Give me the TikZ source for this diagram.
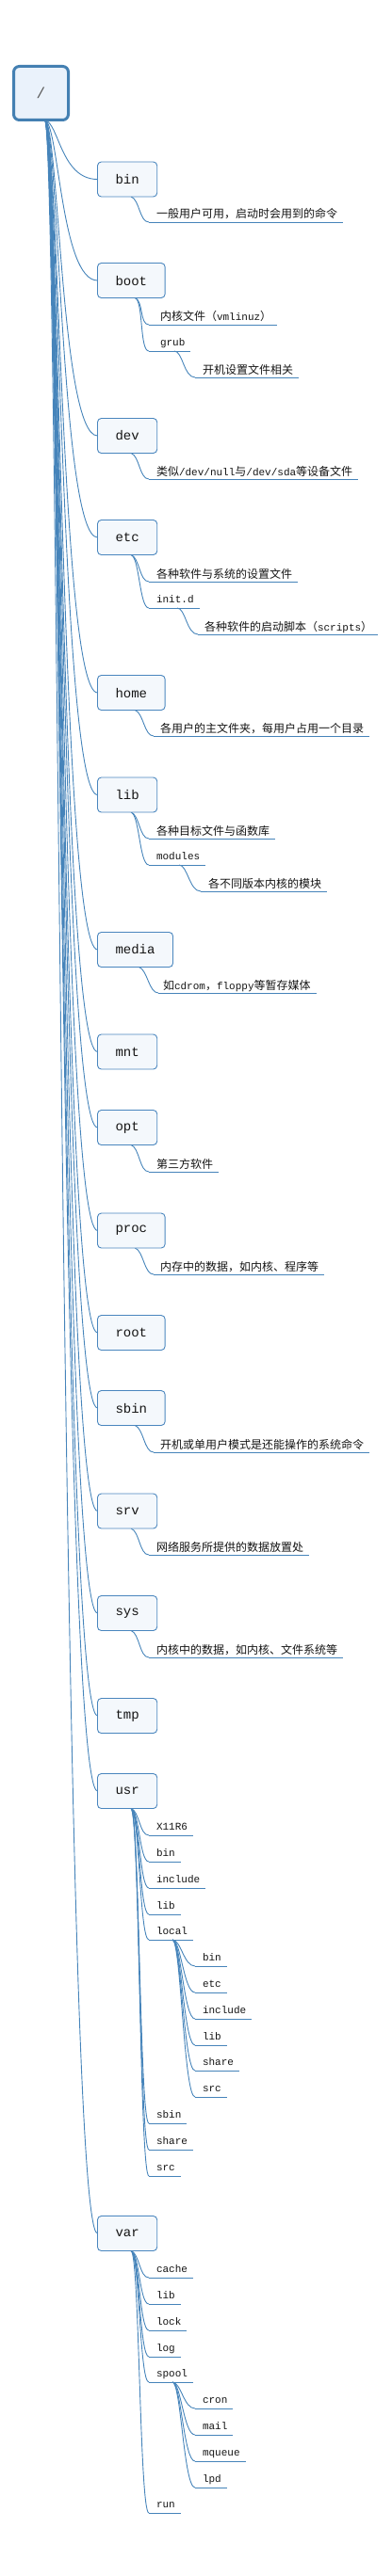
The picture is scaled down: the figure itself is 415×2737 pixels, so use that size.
\documentclass[tikz,border=0pt]{standalone}
\usepackage{fontspec}
\setmainfont{Liberation Mono}
\newfontfamily\cjk{Noto Sans CJK SC}
\usetikzlibrary{backgrounds}
\newcommand\zh[1]{{\cjk\fontsize{12}{14}\selectfont #1}}
\definecolor{linkc}{RGB}{70,132,186}
\definecolor{rootline}{RGB}{68,128,178}
\definecolor{rootfill}{RGB}{234,242,251}
\definecolor{boxline}{RGB}{74,134,190}
\definecolor{boxfill}{RGB}{244,248,252}
\definecolor{inkc}{RGB}{20,20,20}
\tikzset{
  link/.style={draw=linkc, line width=0.9pt},
  rootbox/.style={draw=rootline, fill=rootfill, line width=3pt, rounded corners=6pt,
    minimum width=58pt, minimum height=57pt, inner sep=0, outer sep=0,
    font=\fontsize{16}{18}\selectfont, text=black!65},
  dirbox/.style={draw=boxline, fill=boxfill, line width=0.9pt, rounded corners=4pt,
    anchor=west, inner xsep=19pt, inner ysep=0, minimum height=37pt, outer sep=0,
    font=\fontsize{14}{16}\selectfont, text=inkc},
  leafen/.style={anchor=south west, inner sep=0, outer sep=0, text depth=5.5pt,
    font=\fontsize{11}{13}\selectfont, text=inkc},
  leafzh/.style={leafen, text depth=4pt}
}
\newcommand\dirbox[3]{\node[dirbox] (#1) at (103.5,#2) {#3};}
\newcommand\leaf[6][leafen]{%
  \node[#1] (#2) at (#3,#4) {\hspace*{#5pt}#6\hspace*{6pt}};
  \draw[link] (#2.south west) -- (#2.south east);}
\newcommand\rootlink[1]{\draw[link] ([xshift=4pt]root.south) .. controls +(15,3) and +(-39,0) .. (#1.west);}
\newcommand\boxlink[2]{\draw[link] ([xshift=4pt]#1.south) .. controls +(9,3) and +(-10,0) .. (#2.south west);}
\newcommand\sublink[3]{\draw[link] ([xshift=#3pt]#1.south west) .. controls +(9,0) and +(-12,0) .. (#2.south west);}
\begin{document}
\begin{tikzpicture}[x=1pt,y=-1pt]
\useasboundingbox (0,0) rectangle (415,2737);
\node[rootbox] (root) at (43.5,99) {/};
% first level
\dirbox{bx-bin}{190.5}{bin}
\dirbox{bx-boot}{298}{boot}
\dirbox{bx-dev}{463}{dev}
\dirbox{bx-etc}{571}{etc}
\dirbox{bx-home}{736}{home}
\dirbox{bx-lib}{844.5}{lib}
\dirbox{bx-media}{1009}{media}
\dirbox{bx-mnt}{1117.5}{mnt}
\dirbox{bx-opt}{1198}{opt}
\dirbox{bx-proc}{1307.5}{proc}
\dirbox{bx-root}{1416}{root}
\dirbox{bx-sbin}{1496}{sbin}
\dirbox{bx-srv}{1605.5}{srv}
\dirbox{bx-sys}{1714}{sys}
\dirbox{bx-tmp}{1823}{tmp}
\dirbox{bx-usr}{1903}{usr}
\dirbox{bx-var}{2373}{var}
% leaves
\leaf[leafzh]{bin1}{158}{236}{8}{\zh{一般用户可用，启动时会用到的命令}}
\leaf[leafzh]{boot1}{158}{345}{12}{\zh{内核文件（}vmlinuz\zh{）}}
\leaf{boot2}{158}{373}{12}{grub}
\leaf[leafzh]{boot2a}{207}{401}{8}{\zh{开机设置文件相关}}
\leaf[leafzh]{dev1}{158}{509}{8}{\zh{类似}/dev/null\zh{与}/dev/sda\zh{等设备文件}}
\leaf[leafzh]{etc1}{158}{618}{8}{\zh{各种软件与系统的设置文件}}
\leaf{etc2}{158}{646}{8}{init.d}
\leaf[leafzh]{etc2a}{210}{674}{7}{\zh{各种软件的启动脚本（}scripts\zh{）}}
\leaf[leafzh]{home1}{163}{782}{7}{\zh{各用户的主文件夹，每用户占用一个目录}}
\leaf[leafzh]{lib1}{158}{891}{8}{\zh{各种目标文件与函数库}}
\leaf{lib2}{158}{919}{8}{modules}
\leaf[leafzh]{lib2a}{213}{947}{8}{\zh{各不同版本内核的模块}}
\leaf[leafzh]{media1}{168}{1055}{5}{\zh{如}cdrom\zh{，}floppy\zh{等暂存媒体}}
\leaf[leafzh]{opt1}{158}{1245}{8}{\zh{第三方软件}}
\leaf[leafzh]{proc1}{163}{1354}{7}{\zh{内存中的数据，如内核、程序等}}
\leaf[leafzh]{sbin1}{163}{1543}{7}{\zh{开机或单用户模式是还能操作的系统命令}}
\leaf[leafzh]{srv1}{158}{1652}{8}{\zh{网络服务所提供的数据放置处}}
\leaf[leafzh]{sys1}{158}{1761}{8}{\zh{内核中的数据，如内核、文件系统等}}
% usr
\leaf{usr-x11}{158}{1950}{8}{X11R6}
\leaf{usr-bin}{158}{1978}{8}{bin}
\leaf{usr-include}{158}{2006}{8}{include}
\leaf{usr-lib}{158}{2034}{8}{lib}
\leaf{usr-local}{158}{2061}{8}{local}
\leaf{loc-bin}{207}{2089}{8}{bin}
\leaf{loc-etc}{207}{2117}{8}{etc}
\leaf{loc-include}{207}{2145}{8}{include}
\leaf{loc-lib}{207}{2173}{8}{lib}
\leaf{loc-share}{207}{2200}{8}{share}
\leaf{loc-src}{207}{2228}{8}{src}
\leaf{usr-sbin}{158}{2256}{8}{sbin}
\leaf{usr-share}{158}{2284}{8}{share}
\leaf{usr-src}{158}{2312}{8}{src}
% var
\leaf{var-cache}{158}{2420}{8}{cache}
\leaf{var-lib}{158}{2448}{8}{lib}
\leaf{var-lock}{158}{2476}{8}{lock}
\leaf{var-log}{158}{2504}{8}{log}
\leaf{var-spool}{158}{2531}{8}{spool}
\leaf{sp-cron}{207}{2559}{8}{cron}
\leaf{sp-mail}{207}{2587}{8}{mail}
\leaf{sp-mqueue}{207}{2615}{8}{mqueue}
\leaf{sp-lpd}{207}{2643}{8}{lpd}
\leaf{var-run}{158}{2670}{8}{run}
\begin{scope}[on background layer]
\foreach \b in {bin,boot,dev,etc,home,lib,media,mnt,opt,proc,root,sbin,srv,sys,tmp,usr,var}
  {\rootlink{bx-\b}}
\boxlink{bx-bin}{bin1}
\boxlink{bx-boot}{boot1}
\boxlink{bx-boot}{boot2}
\boxlink{bx-dev}{dev1}
\boxlink{bx-etc}{etc1}
\boxlink{bx-etc}{etc2}
\boxlink{bx-home}{home1}
\boxlink{bx-lib}{lib1}
\boxlink{bx-lib}{lib2}
\boxlink{bx-media}{media1}
\boxlink{bx-opt}{opt1}
\boxlink{bx-proc}{proc1}
\boxlink{bx-sbin}{sbin1}
\boxlink{bx-srv}{srv1}
\boxlink{bx-sys}{sys1}
\foreach \c in {x11,bin,include,lib,local,sbin,share,src}
  {\boxlink{bx-usr}{usr-\c}}
\foreach \c in {cache,lib,lock,log,spool,run}
  {\boxlink{bx-var}{var-\c}}
\sublink{boot2}{boot2a}{27}
\sublink{etc2}{etc2a}{30}
\sublink{lib2}{lib2a}{32}
\foreach \c in {bin,etc,include,lib,share,src}
  {\sublink{usr-local}{loc-\c}{25}}
\foreach \c in {cron,mail,mqueue,lpd}
  {\sublink{var-spool}{sp-\c}{25}}
\end{scope}
\end{tikzpicture}
\end{document}
